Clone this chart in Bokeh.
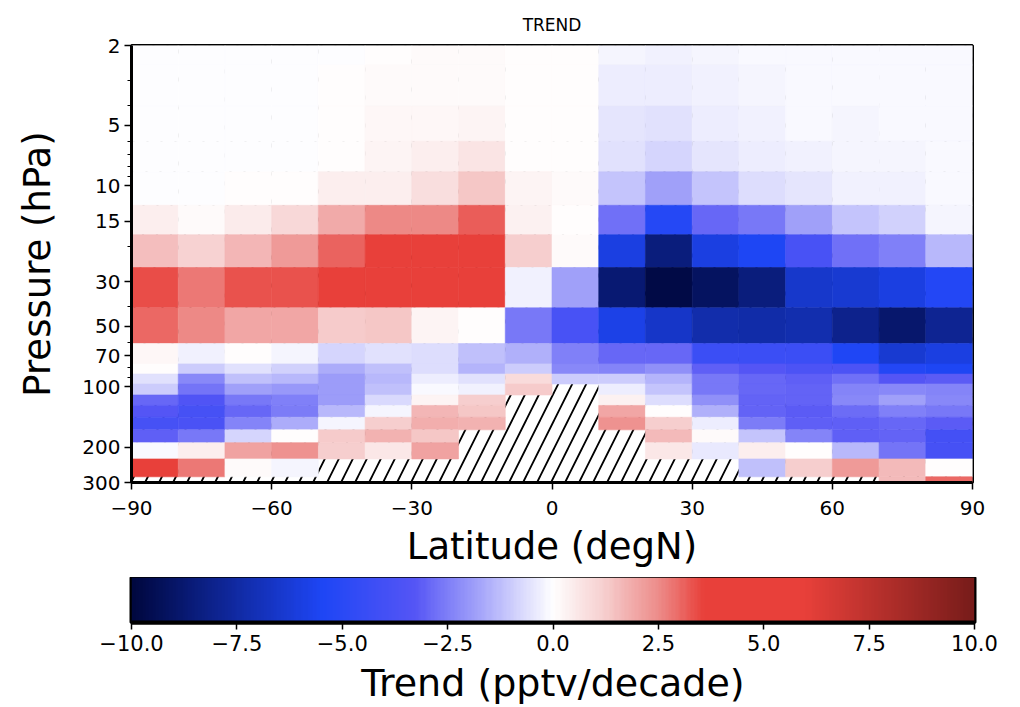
import numpy as np
from bokeh.plotting import figure
from bokeh.models import Range1d, FixedTicker, LinearColorMapper, ColumnDataSource
from bokeh.layouts import column
from bokeh.embed import file_html
from bokeh.resources import INLINE

# ---------------- data ----------------
lat_edges = [-90, -80, -70, -60, -50, -40, -30, -20, -10, 0, 10, 20, 30, 40, 50, 60, 70, 80, 90]
p_edges = [2, 2.5, 4, 6, 8.5, 12.5, 17.5, 25.5, 40.5, 61, 77, 86.5, 97, 110, 124, 142, 164, 190, 229, 281, 300]
N = None
# trend rows from top (2 hPa) to bottom (300 hPa); columns -90..90 in 10 deg bins
trend = [
    [-0.04, -0.04, -0.04, -0.04, -0.03, 0.03, 0.12, 0.12, 0.0, 0.0, -0.2, -0.25, -0.2, -0.15, -0.12, -0.12, -0.12, -0.08],
    [-0.03, -0.03, -0.03, -0.03, 0.02, 0.12, 0.15, 0.15, 0.03, 0.0, -0.35, -0.35, -0.3, -0.2, -0.12, -0.12, -0.12, -0.08],
    [-0.03, -0.03, -0.03, -0.02, 0.05, 0.2, 0.22, 0.3, 0.02, 0.0, -0.5, -0.55, -0.35, -0.3, -0.15, -0.17, -0.15, -0.08],
    [-0.03, -0.03, -0.03, -0.02, 0.07, 0.3, 0.45, 0.7, 0.02, 0.0, -0.55, -0.8, -0.5, -0.35, -0.25, -0.2, -0.2, -0.1],
    [-0.02, -0.02, 0.05, 0.05, 0.4, 0.4, 0.8, 1.4, 0.25, 0.12, -1.1, -1.8, -1.1, -0.7, -0.5, -0.3, -0.25, -0.08],
    [0.45, 0.15, 0.5, 1.0, 1.9, 2.5, 2.5, 3.2, 0.35, 0.0, -2.8, -5.2, -2.9, -2.6, -1.8, -1.15, -0.9, -0.2],
    [1.5, 1.1, 1.7, 2.2, 3.1, 3.8, 3.8, 3.8, 1.2, 0.08, -6.0, -8.5, -6.0, -5.5, -3.8, -2.8, -2.5, -1.4],
    [3.4, 2.8, 3.3, 3.3, 3.8, 4.2, 4.2, 4.2, -0.25, -1.8, -8.7, -9.8, -9.2, -8.5, -6.5, -6.4, -6.0, -5.3],
    [3.0, 2.5, 2.0, 2.0, 1.3, 1.4, 0.3, 0.0, -2.6, -3.8, -5.8, -6.6, -7.3, -7.4, -7.2, -8.1, -8.9, -7.9],
    [0.2, -0.25, 0.0, -0.22, -0.8, -0.55, -0.65, -1.2, -1.5, -2.5, -2.9, -2.9, -4.3, -4.3, -4.3, -5.4, -6.4, -6.0],
    [0.0, -1.0, -0.6, -0.9, -1.6, -1.25, -0.65, -1.45, -0.95, -2.3, -2.4, -2.15, -3.1, -3.3, -3.6, -3.6, -5.3, -5.5],
    [-0.6, -2.3, -1.2, -1.35, -1.95, -1.35, -0.33, -0.58, 0.9, -1.0, -1.0, -1.45, -2.6, -2.95, -3.05, -2.75, -3.3, -3.15],
    [-0.95, -2.7, -1.85, -2.0, -1.9, -1.2, -0.12, -0.25, 1.3, N, -0.32, -1.1, -2.6, -2.9, -3.0, -2.35, -2.3, -2.35],
    [-2.9, -3.5, -2.65, -2.5, -1.95, -0.75, 0.25, 1.2, N, N, 0.35, -0.65, -2.15, -3.0, -3.0, -2.3, -1.85, -2.3],
    [-3.3, -3.9, -2.95, -2.55, -1.4, -0.2, 1.7, 1.4, N, N, 2.0, 0.0, -1.5, -3.0, -3.2, -2.85, -2.45, -2.65],
    [-3.9, -3.7, -2.4, -1.6, -0.2, 1.2, 1.8, 1.75, N, N, 2.4, 1.2, -0.32, -2.55, -3.1, -3.1, -2.9, -3.2],
    [-3.05, -2.6, -0.8, 0.0, 1.25, 1.75, 1.35, N, N, N, N, 1.6, 0.08, -1.1, -2.4, -3.08, -3.0, -3.95],
    [-0.15, 0.45, 2.1, 2.35, 1.2, 0.55, 2.1, N, N, N, N, 0.6, -0.4, 0.45, 0.05, -1.35, -2.7, -3.9],
    [3.6, 2.8, 0.12, -0.2, N, N, N, N, N, N, N, N, N, -1.25, 1.2, 2.2, 1.6, 0.0],
    [N, N, N, N, N, N, N, N, N, N, N, N, N, N, N, N, 1.6, 3.0],
]
y_ticks = [2, 5, 10, 15, 30, 50, 70, 100, 200, 300]
y_minor = [3, 4, 6, 7, 8, 9, 20, 40, 60, 80, 90]
x_ticks = [-90, -60, -30, 0, 30, 60, 90]
cb_ticks = [-10, -7.5, -5, -2.5, 0, 2.5, 5, 7.5, 10]
vmin, vmax = -10, 10

# ---------------- colormap ----------------
anchor_vals = [-10, -5.5, -3.3, 0, 1.25, 2.5, 3.6, 6.0, 10]
anchor_cols = ["#000840", "#1E46F5", "#5555F5", "#FFFFFF", "#F6CDCD", "#ED8C8A", "#E8403A", "#E8403A", "#781C1A"]


def _rgb(h):
    h = h.lstrip("#")
    return [int(h[i:i + 2], 16) for i in (0, 2, 4)]


_ac = np.array([_rgb(c) for c in anchor_cols], dtype=float)
_v = np.linspace(vmin, vmax, 256)
palette = []
for v in _v:
    r, g, b = (np.interp(v, anchor_vals, _ac[:, k]) for k in range(3))
    palette.append("#%02x%02x%02x" % (int(round(r)), int(round(g)), int(round(b))))
mapper = LinearColorMapper(palette=palette, low=vmin, high=vmax)

# ---------------- cells ----------------
L, R, T, B, V = [], [], [], [], []
for j, row in enumerate(trend):
    for i, val in enumerate(row):
        if val is None:
            continue
        L.append(lat_edges[i]); R.append(lat_edges[i + 1])
        T.append(p_edges[j]); B.append(p_edges[j + 1])
        V.append(val)
src = ColumnDataSource(dict(left=L, right=R, top=T, bottom=B, val=V))

FONT = "DejaVu Sans"
TICK_FS = "20px"
LABEL_FS = "37px"

p = figure(frame_width=841, frame_height=437, y_axis_type="log",
           x_range=Range1d(lat_edges[0], lat_edges[-1]),
           y_range=Range1d(p_edges[-1], p_edges[0]),
           output_backend="svg", toolbar_location=None,
           min_border_left=131, min_border_right=48, min_border_top=45, min_border_bottom=95)
p.background_fill_color = "white"
p.border_fill_color = "white"
p.grid.visible = False

# hatched background for missing data
p.quad(left=[lat_edges[0]], right=[lat_edges[-1]], bottom=[p_edges[-1]], top=[p_edges[0]],
       fill_color="white", line_color=None, hatch_pattern="/", hatch_scale=28,
       hatch_weight=1.8, hatch_color="black")

p.quad(left="left", right="right", top="top", bottom="bottom", source=src,
       fill_color={"field": "val", "transform": mapper},
       line_color={"field": "val", "transform": mapper}, line_width=0.6)

p.title.text = "TREND"
p.title.align = "center"
p.title.text_font = FONT
p.title.text_font_size = "17px"
p.title.text_font_style = "normal"
p.title.text_color = "black"
p.title.standoff = 22

p.outline_line_color = "black"
p.outline_line_width = 3
p.outline_line_alpha = 1

for ax in (p.xaxis[0], p.yaxis[0]):
    ax.axis_line_width = 3
    ax.axis_line_color = "black"
    ax.major_tick_line_width = 1.5
    ax.major_tick_out = 7
    ax.major_tick_in = 0
    ax.minor_tick_line_width = 1
    ax.minor_tick_out = 4
    ax.minor_tick_in = 0
    ax.major_label_text_font = FONT
    ax.major_label_text_font_size = TICK_FS
    ax.major_label_text_color = "black"
    ax.axis_label_text_font = FONT
    ax.axis_label_text_font_size = LABEL_FS
    ax.axis_label_text_font_style = "normal"
    ax.axis_label_text_color = "black"

p.xaxis.ticker = FixedTicker(ticks=x_ticks)
p.xaxis.major_label_overrides = {t: str(t).replace("-", "\u2212") for t in x_ticks}
p.xaxis.axis_label = "Latitude (degN)"
p.xaxis.axis_label_standoff = 7
p.xaxis.major_label_standoff = 11

p.yaxis.ticker = FixedTicker(ticks=y_ticks, minor_ticks=y_minor)
p.yaxis.major_label_overrides = {t: str(t) for t in y_ticks}
p.yaxis.axis_label = "Pressure (hPa)"
p.yaxis.axis_label_standoff = 20
p.yaxis.major_label_standoff = 4

# ---------------- colorbar figure ----------------
cb = figure(frame_width=843, frame_height=45,
            x_range=Range1d(vmin, vmax), y_range=Range1d(0, 1),
            output_backend="svg", toolbar_location=None,
            min_border_left=131, min_border_right=46, min_border_top=0, min_border_bottom=85)
cb.grid.visible = False
cb.yaxis.visible = False
cb.border_fill_color = "white"
grad = np.linspace(vmin, vmax, 600).reshape(1, -1)
cb.image(image=[grad], x=vmin, y=0, dw=vmax - vmin, dh=1, color_mapper=mapper)
cb.outline_line_color = "black"
cb.outline_line_width = 4
ax = cb.xaxis[0]
ax.ticker = FixedTicker(ticks=cb_ticks)
ax.major_label_overrides = {t: ("%.1f" % t).replace("-", "\u2212") for t in cb_ticks}
ax.axis_line_width = 4
ax.axis_line_color = "black"
ax.major_tick_line_width = 1.5
ax.major_tick_out = 7
ax.major_tick_in = 0
ax.minor_tick_line_color = None
ax.major_label_text_font = FONT
ax.major_label_text_font_size = "21px"
ax.major_label_text_color = "black"
ax.axis_label = "Trend (pptv/decade)"
ax.axis_label_text_font = FONT
ax.axis_label_text_font_size = "38px"
ax.axis_label_text_font_style = "normal"
ax.axis_label_text_color = "black"
ax.axis_label_standoff = 7
ax.major_label_standoff = 5

layout = column(p, cb, spacing=0)
open("out.html", "w").write(file_html(layout, INLINE))
